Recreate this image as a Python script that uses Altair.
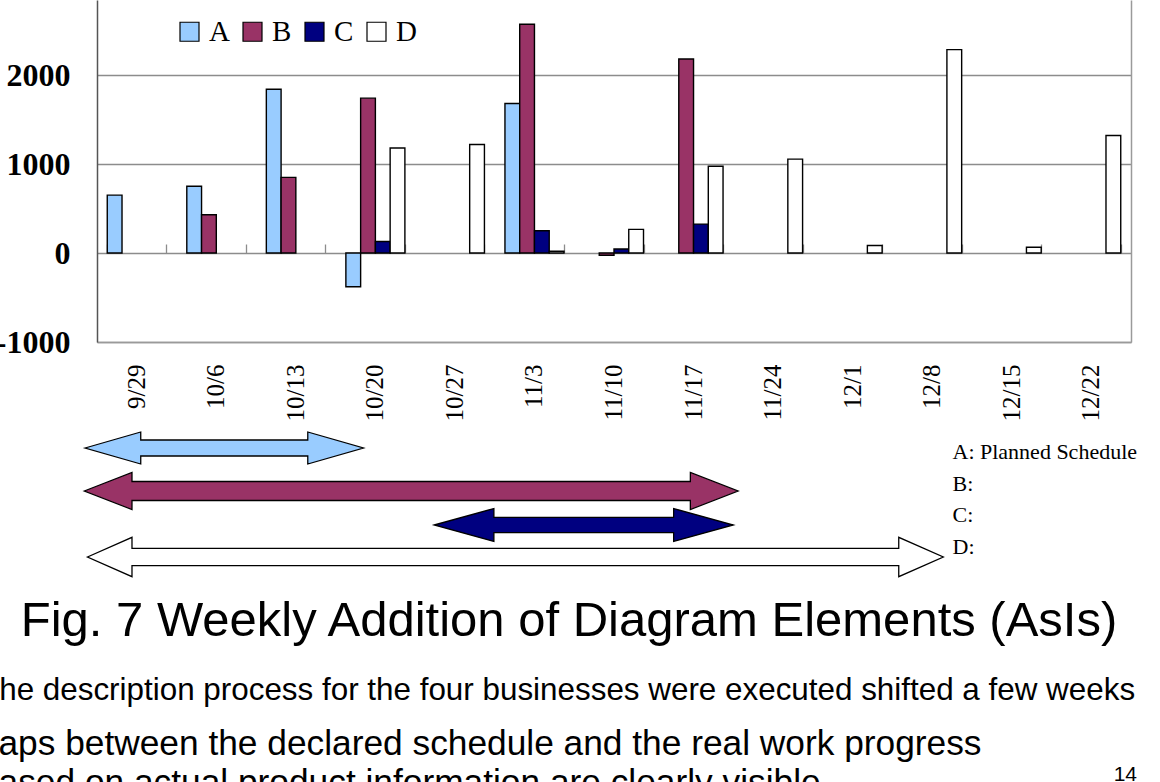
import altair as alt
import pandas as pd

# ---- data -------------------------------------------------------------
weeks = ["9/29", "10/6", "10/13", "10/20", "10/27", "11/3", "11/10",
         "11/17", "11/24", "12/1", "12/8", "12/15", "12/22"]
series = ["A", "B", "C", "D"]

# weekly number of added diagram elements per business (None = no bar)
a_vals = [650, 750, 1840, -380, None, 1680, None, None, None, None, None, None, None]
b_vals = [None, 430, 850, 1740, None, 2570, -25, 2180, None, None, None, None, None]
c_vals = [None, None, None, 130, None, 250, 45, 325, None, None, None, None, None]
d_vals = [None, None, None, 1180, 1220, 20, 265, 975, 1055, 85, 2285, 65, 1320]

series_colors = ["#99CCFF", "#993366", "#000080", "#FFFFFF"]

# schedule spans in weeks counted from 9/29 (arrow tip to arrow tip)
span_start = [-0.65, -0.66, 3.74, -0.62]
span_end = [2.85, 7.56, 7.50, 10.14]
span_notes = ["A: Planned Schedule", "B:", "C:", "D:"]

caption = "Fig. 7 Weekly Addition of Diagram Elements (AsIs)"
body_lines = [
    "The description process for the four businesses were executed shifted a few weeks",
    "Gaps between the declared schedule and the real work progress",
    "Based on actual product information are clearly visible",
]
page_number = "14"

# ---- layout / style ---------------------------------------------------
W, H = 1034, 342
Y_TOP = 2843
ZERO_Y = H * Y_TOP / (Y_TOP + 1000)
EPS = 1e-4
# per-arrow drawing style: lane centre (px), head half-height, shaft half-height (px),
# head length (weeks)
arrow_style = {
    "A": (448, 16, 8, 0.70),
    "B": (491, 18.5, 9.5, 0.60),
    "C": (525, 16.5, 7.7, 0.75),
    "D": (557, 19.7, 8.7, 0.56),
}

# ---- tables -----------------------------------------------------------
rows = []
for s, vals in zip(series, [a_vals, b_vals, c_vals, d_vals]):
    for w, v in zip(weeks, vals):
        if v is not None:
            rows.append({"week": w, "series": s, "value": v})
bar_df = pd.DataFrame(rows)

# double-headed arrow outlines: area points ordered along x, top edge / bottom edge
poly = []
for s, st, en in zip(series, span_start, span_end):
    c, hh, sh, hl = arrow_style[s]
    pts = [
        (st, c, c),
        (st + hl - EPS, c - hh, c + hh),
        (st + hl, c - sh, c + sh),
        (en - hl, c - sh, c + sh),
        (en - hl + EPS, c - hh, c + hh),
        (en, c, c),
    ]
    for x, t, b in pts:
        poly.append({"series": s, "wx": x, "top": t, "bottom": b})
arrow_df = pd.DataFrame(poly)

# ---- chart ------------------------------------------------------------
x_scale = alt.Scale(domain=weeks, paddingInner=0.258, paddingOuter=0.129)
y_scale = alt.Scale(domain=[-1000, Y_TOP], nice=False, zero=False)
color_scale = alt.Scale(domain=series, range=series_colors)

bars = alt.Chart(bar_df).mark_bar(stroke="black", strokeWidth=1.4).encode(
    x=alt.X("week:N", sort=weeks, scale=x_scale, title=None,
            axis=alt.Axis(orient="bottom", labelAngle=270, labelAlign="right",
                          labelBaseline="middle", labelFont="Liberation Serif",
                          labelFontSize=25, labelColor="black", labelPadding=22,
                          ticks=False, grid=False, domainColor="#9a9a9a",
                          domainWidth=1.5)),
    xOffset=alt.XOffset("series:N", scale=alt.Scale(domain=series, paddingInner=0,
                                                    paddingOuter=0)),
    y=alt.Y("value:Q", scale=y_scale, stack=None, title=None,
            axis=alt.Axis(orient="left", values=[-1000, 0, 1000, 2000],
                          labelExpr="datum.value + ''", grid=True,
                          gridColor="#8c8c8c", gridWidth=1.3, ticks=False,
                          domainColor="#555555", domainWidth=1.5,
                          labelFont="Liberation Serif", labelFontWeight="bold",
                          labelFontSize=32, labelColor="black", labelPadding=27)),
    y2=alt.datum(0),
    color=alt.Color("series:N", scale=color_scale,
                    legend=alt.Legend(orient="none", legendX=78, legendY=17,
                                      direction="horizontal", title=None,
                                      symbolType="square", symbolSize=361,
                                      symbolStrokeColor="black",
                                      symbolStrokeWidth=1.2,
                                      labelFont="Liberation Serif",
                                      labelFontSize=29, labelColor="black",
                                      labelOffset=5, columnPadding=8)),
)

# category ticks sitting on the zero line, plus the right frame edge
zero_ticks = alt.Chart(bar_df).mark_bar(opacity=0).encode(
    x=alt.X("week:N", sort=weeks, scale=x_scale, title=None,
            axis=alt.Axis(orient="top", offset=-ZERO_Y, labels=False,
                          domain=False, ticks=True, tickBand="extent",
                          tickSize=9, tickColor="#8c8c8c", tickWidth=1.3,
                          grid=False)),
    y=alt.Y("value:Q", scale=y_scale, stack=None, title=None,
            axis=alt.Axis(orient="right", labels=False, ticks=False, grid=False,
                          domainColor="#9a9a9a", domainWidth=1.5)),
)

plot = alt.layer(bars, zero_ticks).resolve_axis(x="independent", y="independent")

arrows = alt.Chart(arrow_df).mark_area(stroke="black", strokeWidth=1.3, opacity=1,
                                       orient="vertical").encode(
    x=alt.X("wx:Q", scale=alt.Scale(domain=[-0.5, 12.5], nice=False, zero=False),
            axis=None),
    y=alt.Y("top:Q", scale=alt.Scale(domain=[0, 782], range=[0, 782], nice=False,
                                     zero=False), axis=None, stack=None),
    y2="bottom:Q",
    fill=alt.Fill("series:N", scale=alt.Scale(domain=series, range=series_colors),
                  legend=None),
    detail="series:N",
)

notes = alt.Chart(pd.DataFrame({"t": ["\n".join(span_notes)]})).mark_text(
    font="Liberation Serif", fontSize=22, align="left", baseline="alphabetic",
    lineBreak="\n", lineHeight=31.7, color="black",
).encode(x=alt.value(855.5), y=alt.value(459), text="t:N")

title_text = alt.Chart(pd.DataFrame({"t": [caption]})).mark_text(
    font="Liberation Sans", fontSize=49, align="center", baseline="alphabetic",
    color="black",
).encode(x=alt.value(472), y=alt.value(636), text="t:N")

body1 = alt.Chart(pd.DataFrame({"t": [body_lines[0]]})).mark_text(
    font="Liberation Sans", fontSize=31.4, align="left", baseline="alphabetic",
    color="black",
).encode(x=alt.value(-117), y=alt.value(700), text="t:N")

body2 = alt.Chart(pd.DataFrame({"t": [body_lines[1]]})).mark_text(
    font="Liberation Sans", fontSize=35.3, align="left", baseline="alphabetic",
    color="black",
).encode(x=alt.value(-126), y=alt.value(755), text="t:N")

body3 = alt.Chart(pd.DataFrame({"t": [body_lines[2]]})).mark_text(
    font="Liberation Sans", fontSize=35.3, align="left", baseline="alphabetic",
    color="black",
).encode(x=alt.value(-122), y=alt.value(794), text="t:N")

page = alt.Chart(pd.DataFrame({"t": [page_number]})).mark_text(
    font="Liberation Sans", fontSize=21, align="right", baseline="alphabetic",
    color="black",
).encode(x=alt.value(1040), y=alt.value(781), text="t:N")

chart = alt.layer(plot, arrows, notes, title_text, body1, body2, body3, page).resolve_scale(
    x="independent", y="independent"
).properties(
    width=W, height=H,
    padding={"left": 97, "top": 0, "right": 29, "bottom": 440},
    autosize=alt.AutoSizeParams(type="none"),
    background="white",
).configure_view(stroke=None)

chart.save("out.html", embed_options={"renderer": "svg", "actions": False})
